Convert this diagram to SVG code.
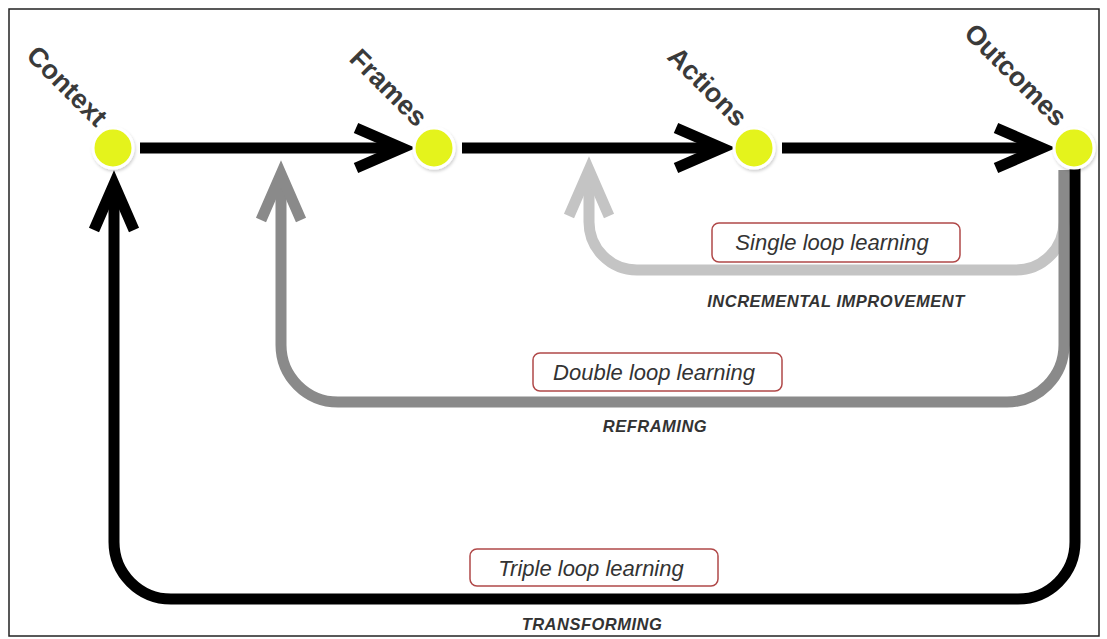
<svg xmlns="http://www.w3.org/2000/svg" width="1107" height="639" viewBox="0 0 1107 639">
  <style>
    .frame { fill: #ffffff; stroke: #222222; stroke-width: 1.5; }
    .wire { fill: none; stroke-width: 11; stroke-linejoin: round; }
    .head { fill: none; stroke-width: 11; stroke-linejoin: miter; stroke-miterlimit: 6; }
    .black { stroke: #000000; }
    .grey { stroke: #8a8a8a; }
    .light { stroke: #c4c4c4; }
    .dot { fill: #e4f31b; stroke: #ffffff; stroke-width: 3; filter: url(#glow); }
    .stage { font-family: "Liberation Sans", Arial, sans-serif; font-weight: bold; font-size: 27px; fill: #3a3a3a; text-anchor: end; }
    .tag { fill: #ffffff; stroke: #b04848; stroke-width: 1.5; }
    .tagtext { font-family: "Liberation Sans", Arial, sans-serif; font-style: italic; font-size: 22px; fill: #333333; text-anchor: middle; }
    .caption { font-family: "Liberation Sans", Arial, sans-serif; font-style: italic; font-weight: bold; font-size: 16.5px; letter-spacing: 0.5px; fill: #333333; text-anchor: middle; }
  </style>
  <defs>
    <filter id="glow" x="-40%" y="-40%" width="180%" height="180%">
      <feDropShadow dx="1" dy="2" stdDeviation="1.5" flood-color="#000000" flood-opacity="0.18"/>
    </filter>
  </defs>

  <rect class="frame" x="9" y="9" width="1090" height="627"/>

  <g id="connectors">
    <!-- single loop: outcomes back to actions -->
    <path class="wire light" d="M1064 170 V222 A48 48 0 0 1 1016 270 H637 A48 48 0 0 1 589 222 V172"/>
    <polyline class="head light" points="569,216 589,170 609,216"/>
    <!-- double loop: outcomes back to frames -->
    <path class="wire grey" d="M1064 170 V345 A57 57 0 0 1 1007 402 H338 A57 57 0 0 1 281 345 V176"/>
    <polyline class="head grey" points="261,220 281,174 301,220"/>
    <!-- triple loop: outcomes back to context -->
    <path class="wire black" d="M1075 168 V542 A57 57 0 0 1 1018 599 H171 A57 57 0 0 1 114 542 V186"/>
    <polyline class="head black" points="94,230 114,184 134,230"/>
    <!-- forward chain -->
    <line class="wire black" x1="140" y1="148" x2="402" y2="148"/>
    <polyline class="head black" points="356,128 402,148 356,168"/>
    <line class="wire black" x1="462" y1="148" x2="722" y2="148"/>
    <polyline class="head black" points="676,128 722,148 676,168"/>
    <line class="wire black" x1="782" y1="148" x2="1042" y2="148"/>
    <polyline class="head black" points="996,128 1042,148 996,168"/>
  </g>

  <g id="context">
    <circle class="dot" cx="113" cy="148" r="20"/>
    <text class="stage" transform="translate(96 128) rotate(45)">Context</text>
  </g>
  <g id="frames">
    <circle class="dot" cx="434" cy="148" r="20"/>
    <text class="stage" transform="translate(416 128) rotate(45)">Frames</text>
  </g>
  <g id="actions">
    <circle class="dot" cx="754" cy="148" r="20"/>
    <text class="stage" transform="translate(736 128) rotate(45)">Actions</text>
  </g>
  <g id="outcomes">
    <circle class="dot" cx="1074" cy="148" r="20"/>
    <text class="stage" transform="translate(1056 128) rotate(45)">Outcomes</text>
  </g>

  <g id="single-loop">
    <rect class="tag" x="712" y="223" width="248" height="39" rx="7"/>
    <text class="tagtext" x="832" y="250">Single loop learning</text>
    <text class="caption" x="836" y="307">INCREMENTAL IMPROVEMENT</text>
  </g>
  <g id="double-loop">
    <rect class="tag" x="533" y="353" width="249" height="38" rx="7"/>
    <text class="tagtext" x="654" y="380">Double loop learning</text>
    <text class="caption" x="655" y="432">REFRAMING</text>
  </g>
  <g id="triple-loop">
    <rect class="tag" x="470" y="549" width="248" height="37" rx="7"/>
    <text class="tagtext" x="591" y="576">Triple loop learning</text>
    <text class="caption" x="592" y="630">TRANSFORMING</text>
  </g>
</svg>
